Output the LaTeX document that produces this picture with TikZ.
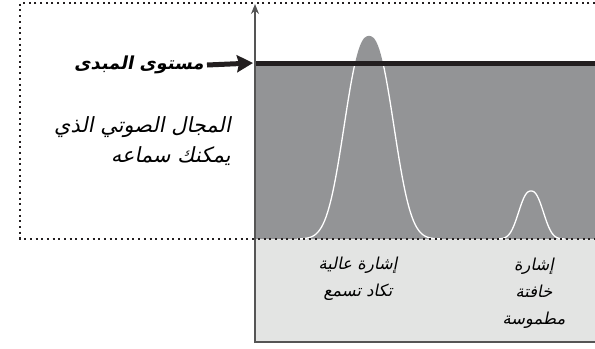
\documentclass[tikz,border=0pt]{standalone}
\usepackage{fontspec}
\usepackage{xcolor}
\usetikzlibrary{arrows.meta}
\TeXXeTstate=1
\newfontfamily\arabicslant[Script=Arabic,FakeSlant=0.2]{DejaVu Sans}
\newfontfamily\arabicboldslant[Script=Arabic,FakeSlant=0.2]{DejaVu Sans Bold}
\definecolor{rangegray}{HTML}{939496}
\definecolor{floorgray}{HTML}{E3E4E3}
\definecolor{axisgray}{HTML}{555555}
\definecolor{inkblack}{HTML}{231F20}

\begin{document}
\begin{tikzpicture}[
x=1bp, y=-1bp,
lbl/.style={
inner sep=0pt,
align=right,
font=\arabicslant\fontsize{21}{30}\selectfont
},
siglbl/.style={
inner sep=0pt,
align=center,
font=\arabicslant\fontsize{16.5}{27}\selectfont
},
dotline/.style={
draw=inkblack,
line width=2.1bp,
dash pattern=on 2bp off 3.7bp
},
>=Stealth
]
\useasboundingbox (0,0) rectangle (595,348);

% audible range and floor
\fill[rangegray] (256,63) rectangle (595,239);
\fill[rangegray] plot[domain=-72:72, samples=90]
({369+\x}, {239-203*exp(-pow((abs(\x)+0.01)/31,2.44))}) -- cycle;
\fill[floorgray] (256,239) rectangle (595,342);

% signals
\begin{scope}
\clip (256,66) rectangle (595,239);
\draw[white, line width=1.3bp] plot[domain=-72:72, samples=90]
({369+\x}, {239-203*exp(-pow((abs(\x)+0.01)/31,2.44))});
\draw[white, line width=1.3bp] plot[domain=-34:34, samples=60]
({531+\x}, {239-48*exp(-pow((abs(\x)+0.01)/15.5,2.44))});
\end{scope}

% threshold line
\draw[inkblack, line width=5bp] (256,63) -- (595,63);

% dotted frame
\draw[dotline] (595,3) -- (20,3) -- (20,239) -- (595,239);

% axis and floor edge
\draw[axisgray, line width=1.8bp] (255,342) -- (595,342);
\draw[axisgray, line width=1.5bp, -{Stealth[length=10bp,width=8bp]}] (255,343) -- (255,4);
\coordinate (thr) at (253,63);

% labels
\node[lbl, anchor=east, font=\arabicboldslant\fontsize{18}{22}\selectfont] (thrlbl) at (204,65)
{\beginR مستوى المبدى\endR};
\node[lbl, anchor=east] (rangelbl) at (231,141)
{\beginR المجال الصوتي الذي\endR\\\beginR يمكنك سماعه\endR};
\node[siglbl] (loudlbl) at (358,279)
{\beginR إشارة عالية\endR\\\beginR تكاد تسمع\endR};
\node[siglbl] (softlbl) at (534,293)
{\beginR إشارة\endR\\\beginR خافتة\endR\\\beginR مطموسة\endR};

\draw[inkblack, line width=5bp, -{Stealth[length=16bp,width=17bp,inset=2bp]}] (thrlbl.east) ++(3,0) -- (thr);
\end{tikzpicture}
\end{document}
